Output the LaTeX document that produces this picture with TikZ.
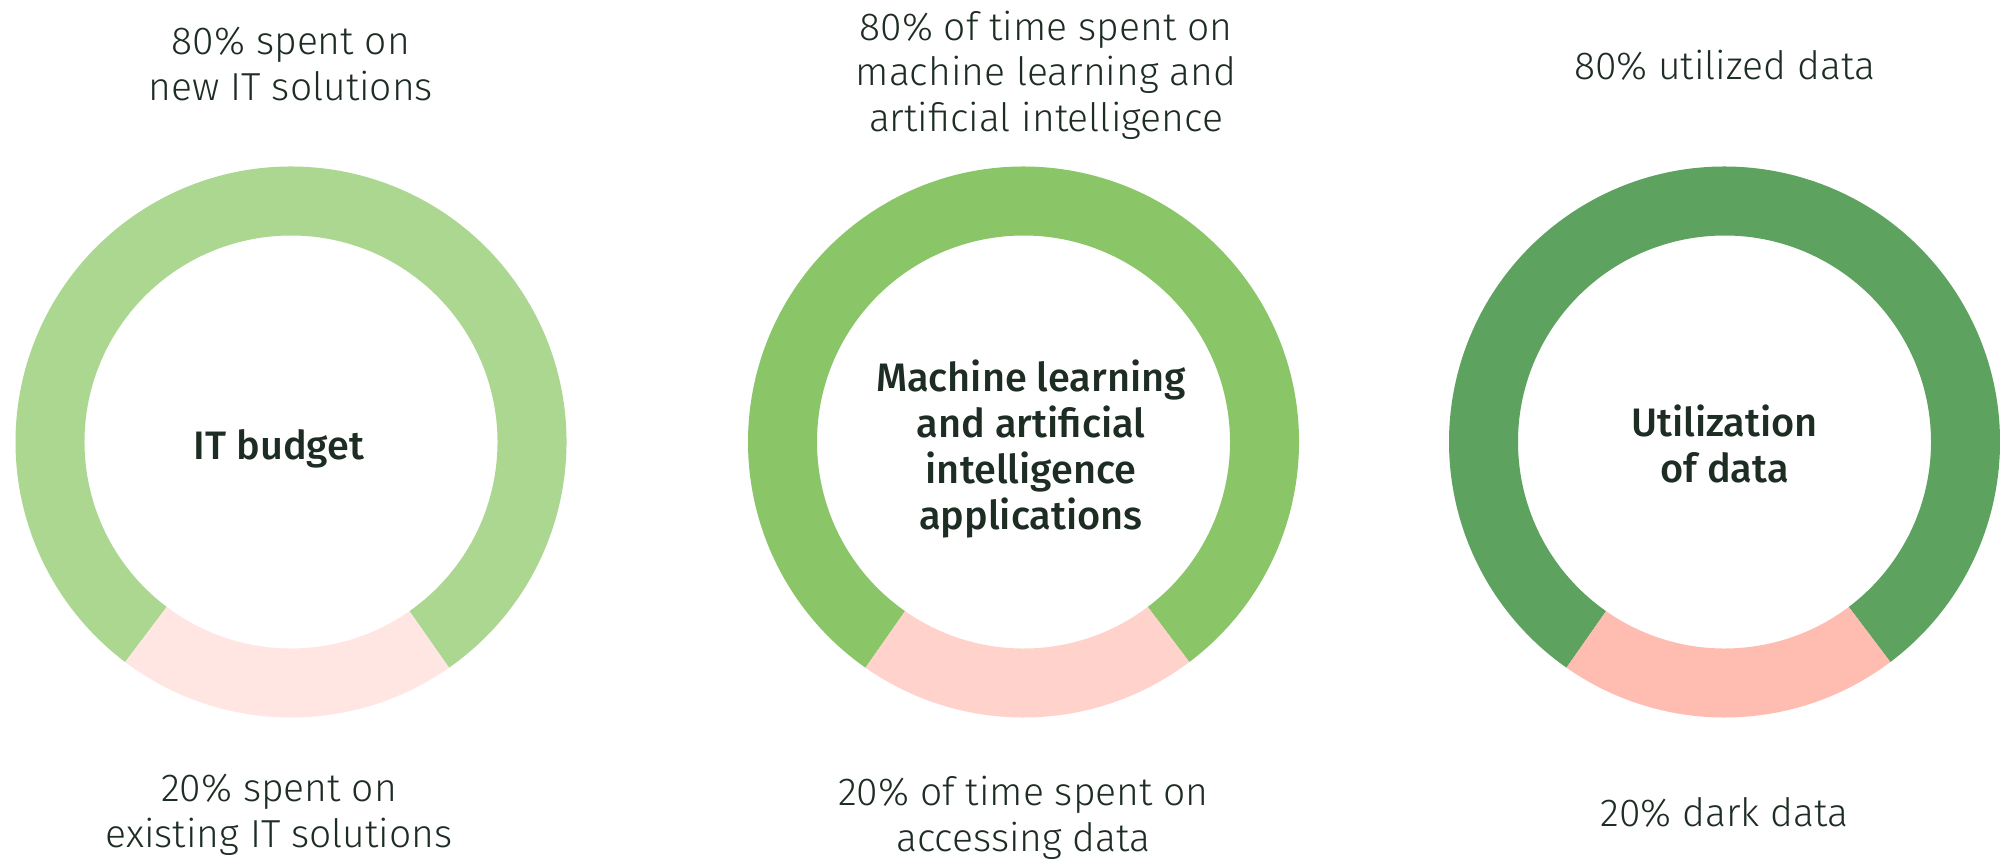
\documentclass[tikz,border=0pt]{standalone}
\usepackage{fontspec}
\setmainfont{Fira Sans}
\IfFontExistsTF{Fira Sans Light}{\newfontfamily\lightfont{Fira Sans Light}}{%
  \IfFontExistsTF{Lato Light}{\newfontfamily\lightfont{Lato Light}}{\newfontfamily\lightfont{Fira Sans}}}
\IfFontExistsTF{Fira Sans Medium}{\newfontfamily\semifont{Fira Sans Medium}}{%
  \IfFontExistsTF{Fira Sans SemiBold}{\newfontfamily\semifont{Fira Sans SemiBold}}{\newfontfamily\semifont{Fira Sans}[UprightFont=*-Bold]}}
\definecolor{txt}{HTML}{1E2D24}
\definecolor{gA}{HTML}{ACD791}
\definecolor{pA}{HTML}{FFE6E2}
\definecolor{gB}{HTML}{8AC668}
\definecolor{pB}{HTML}{FFD3CC}
\definecolor{gC}{HTML}{5DA35F}
\definecolor{pC}{HTML}{FFBCB0}
\tikzset{
  lbl/.style={text=txt, font=\lightfont\fontsize{11.1pt}{12.9pt}\selectfont, align=center, inner sep=0pt, anchor=base},
  ctr/.style={text=txt, font=\semifont\fontsize{11.3pt}{13pt}\selectfont, align=center, inner sep=0pt, anchor=base},
}
\newcommand{\ringseg}[5]{% cx, cy, a1, a2, color
  \fill[#5] ([shift={(#3:275.5)}]#1,#2) arc[start angle=#3, end angle=#4, radius=275.5]
    -- ([shift={(#4:206.5)}]#1,#2) arc[start angle=#4, end angle=#3, radius=206.5] -- cycle;}
\begin{document}
\begin{tikzpicture}[x=0.01cm,y=0.01cm]
\useasboundingbox (0,0) rectangle (2000,859);
\fill[white] (0,0) rectangle (2000,859);
% ring 1
\ringseg{291}{417}{-55}{233}{gA}
\ringseg{291}{417}{-127}{-55}{pA}
% ring 2
\ringseg{1023.5}{417}{-53}{235}{gB}
\ringseg{1023.5}{417}{-125}{-53}{pB}
% ring 3
\ringseg{1724.5}{417}{-53}{235}{gC}
\ringseg{1724.5}{417}{-125}{-53}{pC}
% labels ring 1 (anchor = baseline of last line)
\node[lbl] (t1) at (291,759) {80\% spent on\\new IT solutions};
\node[ctr] (c1) at (279,400) {IT budget};
\node[lbl] (b1) at (279,12) {20\% spent on\\existing IT solutions};
% labels ring 2
\node[lbl] (t2) at (1046,728) {80\% of time spent on\\machine learning and\\artificial intelligence};
\node[ctr] (c2) at (1031,330) {Machine learning\\and artificial\\intelligence\\applications};
\node[lbl] (b2) at (1023.5,8) {20\% of time spent on\\accessing data};
% labels ring 3
\node[lbl] (t3) at (1724.5,780) {80\% utilized data};
\node[ctr] (c3) at (1724.5,377) {Utilization\\of data};
\node[lbl] (b3) at (1724.5,33) {20\% dark data};
\end{tikzpicture}
\end{document}
